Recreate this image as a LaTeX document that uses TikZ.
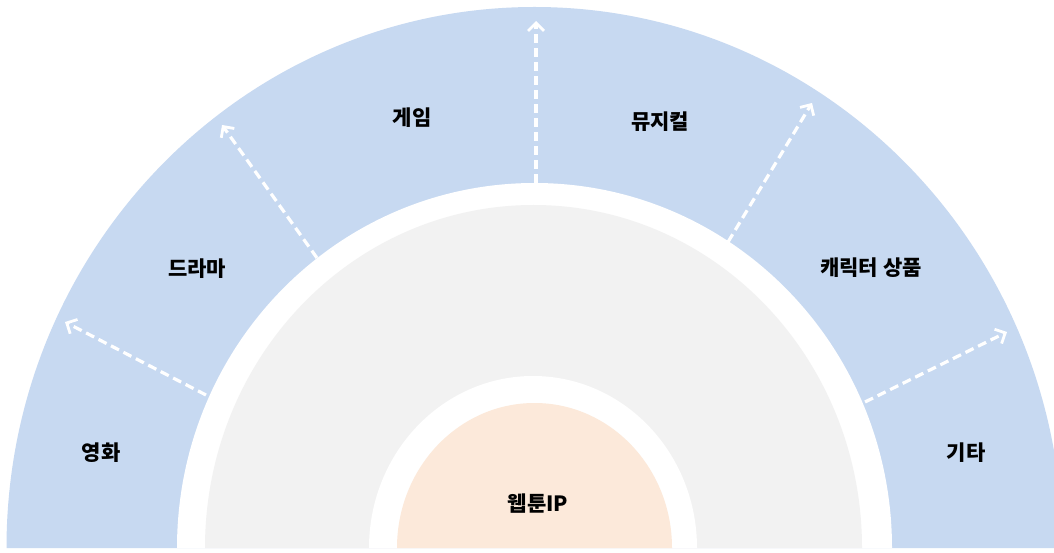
\documentclass[tikz,border=0pt]{standalone}
\usepackage{fontspec}
\newfontfamily\krfont{Noto Sans CJK KR}
\usetikzlibrary{arrows.meta}
\definecolor{ringblue}{HTML}{C7D9F1}
\definecolor{midgray}{HTML}{F2F2F2}
\definecolor{corepeach}{HTML}{FCE9DA}
\tikzset{
  flow/.style={draw=white, line width=3.2pt, dash pattern=on 9pt off 5pt,
    -{Straight Barb[length=8pt,width=16pt,line width=2.8pt]}},
  lbl/.style={font=\krfont\bfseries\fontsize{21}{25}\selectfont, text=black, inner sep=0pt}
}
\begin{document}
\begin{tikzpicture}[x=1pt,y=1pt]
\useasboundingbox (0,0) rectangle (1054,552);
\fill[white] (0,0) rectangle (1054,552);
\begin{scope}
\clip (0,0) rectangle (1054,552);
\fill[ringblue] (534.5,4) ++(-528,0) arc[start angle=180,end angle=0,x radius=528,y radius=541] -- cycle;
\fill[white] (534.5,4) ++(-357.5,0) arc[start angle=180,end angle=0,x radius=357.5,y radius=365] -- cycle;
\fill[midgray] (533.5,4) ++(-328.5,0) arc[start angle=180,end angle=0,x radius=328.5,y radius=343] -- cycle;
\fill[white] (533,4) ++(-164,0) arc[start angle=180,end angle=0,x radius=164,y radius=172] -- cycle;
\fill[corepeach] (534.5,4) ++(-137.5,0) arc[start angle=180,end angle=0,x radius=137.5,y radius=145] -- cycle;
\end{scope}
% arrow end points
\coordinate (a1s) at (536,369); \coordinate (a1e) at (536,531);
\coordinate (a2s) at (317,294); \coordinate (a2e) at (222,427);
\coordinate (a3s) at (206,157); \coordinate (a3e) at (65,230);
\coordinate (a4s) at (865,150); \coordinate (a4e) at (1007,220);
\coordinate (a5s) at (728,310); \coordinate (a5e) at (812,449);
\draw[flow] (a1s) -- (a1e);
\draw[flow] (a2s) -- (a2e);
\draw[flow] (a3s) -- (a3e);
\draw[flow] (a4s) -- (a4e);
\draw[flow] (a5s) -- (a5e);
% labels
\node[lbl] (movie) at (101,99) {영화};
\node[lbl] (drama) at (197,283) {드라마};
\node[lbl] (game) at (412,434) {게임};
\node[lbl] (musical) at (660,430) {뮤지컬};
\node[lbl] (goods) at (871,284) {캐릭터 상품};
\node[lbl] (etc) at (966,99) {기타};
\node[lbl] (core) at (538,48) {웹툰IP};
\end{tikzpicture}
\end{document}
